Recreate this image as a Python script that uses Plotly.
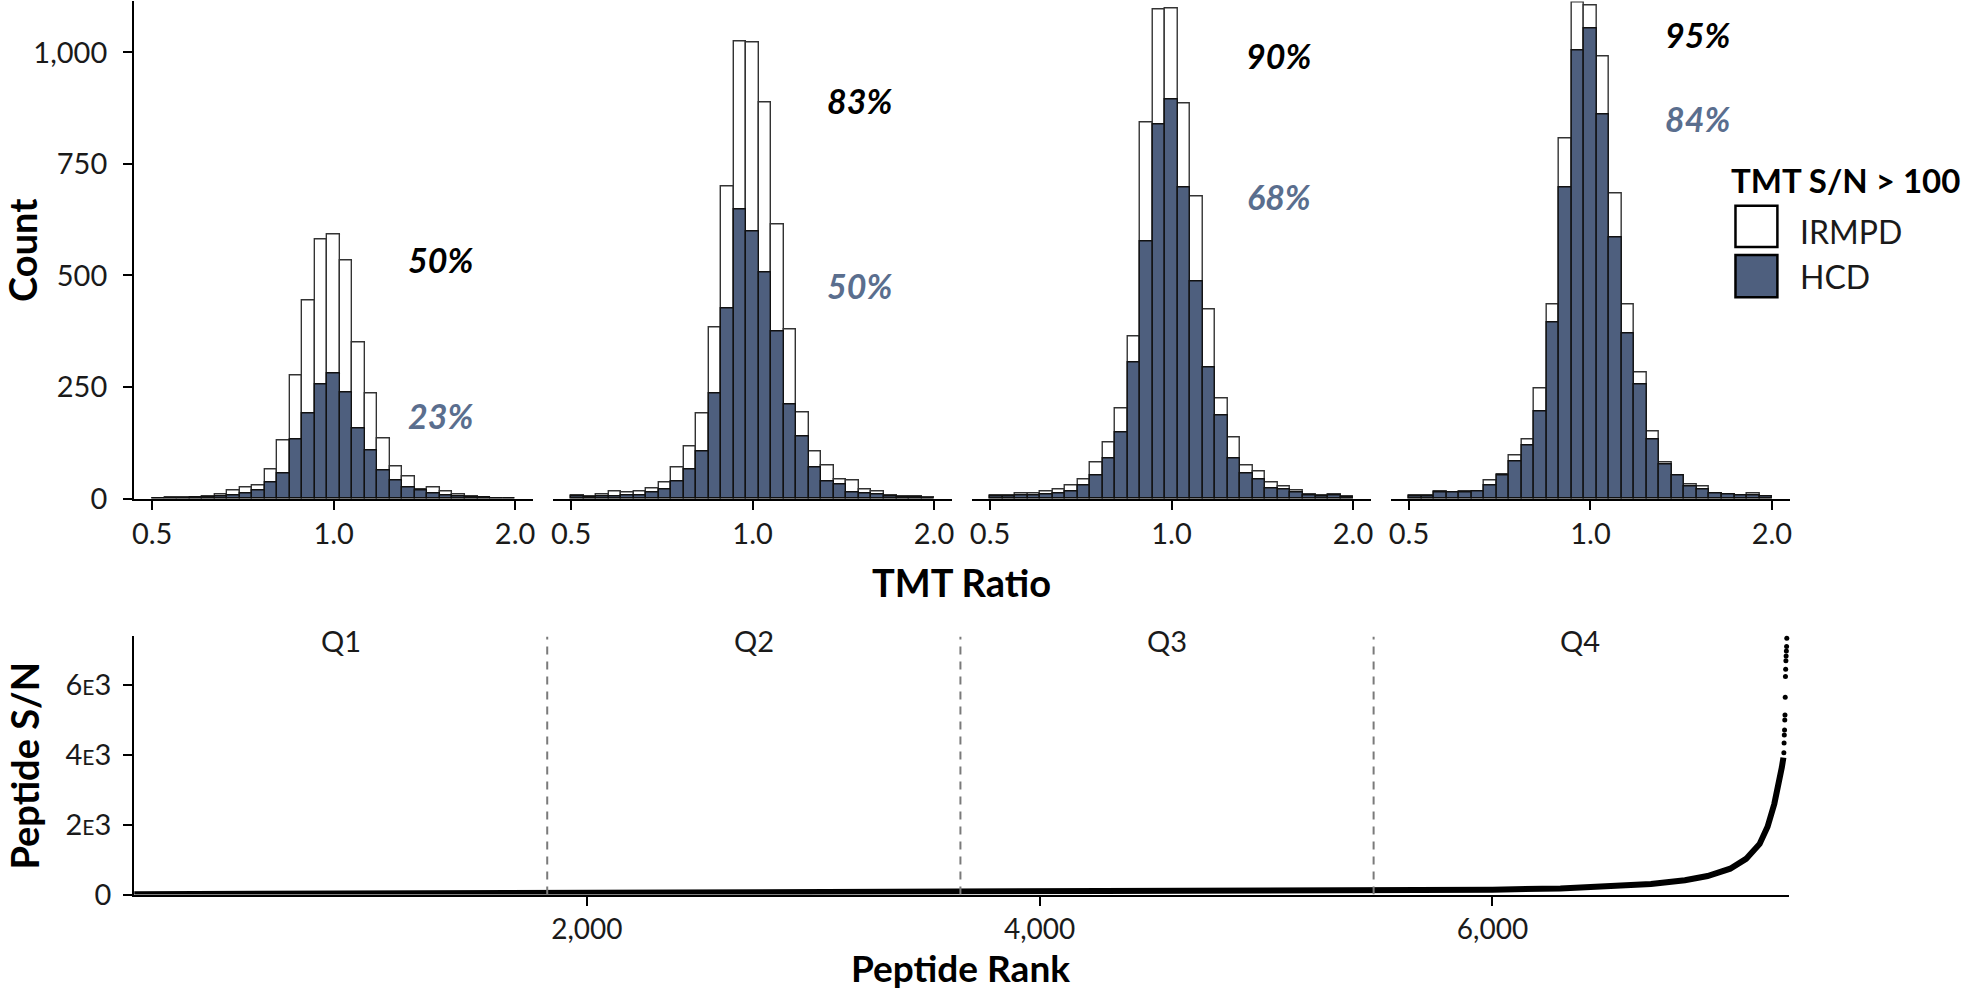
import math
import plotly.graph_objects as go

# ---------------- data ----------------
QUARTILES = ["Q1", "Q2", "Q3", "Q4"]
RATIO_TICKS = [0.5, 1.0, 2.0]
RATIO_TICK_LABELS = ["0.5", "1.0", "2.0"]
RATIO_MIN, RATIO_MAX = 0.5, 2.0
N_BINS = 29  # bins evenly spaced in log2(ratio) between 0.5 and 2.0

IRMPD_Q1 = [1, 2, 2, 3, 5, 9, 19, 26, 30, 66, 131, 275, 443, 581, 592, 533, 350, 236, 135, 72, 49, 20, 26, 15, 9, 5, 2, 1, 0]
HCD_Q1 = [1, 1, 1, 2, 3, 5, 8, 11, 19, 36, 56, 132, 190, 255, 280, 238, 157, 107, 63, 40, 24, 19, 12, 8, 5, 3, 2, 1, 0]
IRMPD_Q2 = [8, 5, 9, 17, 13, 15, 23, 36, 69, 118, 190, 383, 700, 1024, 1022, 888, 614, 380, 192, 106, 75, 43, 40, 20, 17, 8, 5, 4, 3]
HCD_Q2 = [4, 3, 4, 5, 6, 8, 13, 20, 39, 66, 106, 235, 427, 647, 599, 507, 375, 210, 139, 70, 39, 32, 13, 11, 9, 5, 3, 2, 1]
IRMPD_Q3 = [8, 7, 11, 12, 16, 20, 30, 43, 81, 126, 201, 364, 844, 1095, 1098, 885, 677, 424, 224, 136, 74, 61, 36, 27, 19, 9, 8, 9, 4]
HCD_Q3 = [5, 5, 7, 8, 9, 12, 17, 30, 53, 90, 149, 304, 576, 838, 894, 698, 487, 294, 186, 90, 57, 43, 23, 20, 13, 7, 5, 6, 3]
IRMPD_Q4 = [8, 8, 15, 14, 15, 17, 40, 55, 97, 133, 247, 434, 808, 1112, 1105, 991, 683, 435, 282, 150, 81, 52, 32, 27, 12, 9, 8, 11, 5]
HCD_Q4 = [5, 5, 13, 13, 13, 17, 30, 51, 84, 119, 195, 394, 698, 1005, 1053, 861, 586, 371, 255, 132, 76, 51, 27, 21, 11, 9, 7, 8, 4]

PCT_IRMPD = ["50%", "83%", "90%", "95%"]
PCT_HCD = ["23%", "50%", "68%", "84%"]

N_PEPTIDES = 7300
PEPTIDE_RANK = [1, 500, 1000, 1500, 1825, 2500, 3000, 3650, 4200, 4800, 5475, 6000, 6300,
                6500, 6700, 6850, 6950, 7050, 7120, 7180, 7215, 7245, 7265, 7278, 7285]
PEPTIDE_SN = [8, 18, 25, 31, 35, 44, 52, 62, 74, 88, 108, 140, 175,
              225, 300, 410, 530, 740, 1020, 1450, 1940, 2600, 3150, 3640, 3920]
TAIL_RANK = [7287, 7288, 7289, 7290, 7291, 7292, 7293, 7294, 7295, 7296, 7297, 7298, 7299, 7300]
TAIL_SN = [4060, 4340, 4570, 4710, 5000, 5140, 5650, 6240, 6450, 6690, 6830, 6970, 7100, 7340]

# ---------------- style ----------------
W, H = 1972, 1006
FONT = "Lato"
HCD_COLOR = "#4E5F7E"
HCD_TEXT = "#5A6E8E"
TICK_FONT = dict(family=FONT, size=29, color="#1a1a1a")


def px(x):
    return x / W


def py(y):
    return 1 - y / H


lo, hi = math.log2(RATIO_MIN), math.log2(RATIO_MAX)
bw = (hi - lo) / N_BINS
centers = [lo + (i + 0.5) * bw for i in range(N_BINS)]

IRMPD = [IRMPD_Q1, IRMPD_Q2, IRMPD_Q3, IRMPD_Q4]
HCD = [HCD_Q1, HCD_Q2, HCD_Q3, HCD_Q4]

fig = go.Figure()
for i in range(4):
    xa = "x" if i == 0 else f"x{i+1}"
    fig.add_bar(x=centers, y=IRMPD[i], width=bw, xaxis=xa, yaxis="y",
                marker=dict(color="white", line=dict(color="#333333", width=1.4)),
                name="IRMPD", showlegend=False)
    fig.add_bar(x=centers, y=HCD[i], width=bw, xaxis=xa, yaxis="y",
                marker=dict(color=HCD_COLOR, line=dict(color="#111111", width=1.4)),
                name="HCD", showlegend=False)

fig.add_scatter(x=PEPTIDE_RANK, y=PEPTIDE_SN, mode="lines", xaxis="x5", yaxis="y2",
                line=dict(color="black", width=6), cliponaxis=False, showlegend=False)
fig.add_scatter(x=TAIL_RANK, y=TAIL_SN, mode="markers", xaxis="x5", yaxis="y2",
                marker=dict(color="black", size=5), cliponaxis=False, showlegend=False)

axis_common = dict(showgrid=False, zeroline=False, showline=True, linecolor="black",
                   linewidth=2, ticks="outside", ticklen=9, tickwidth=2, tickcolor="black",
                   tickfont=TICK_FONT)

layout = dict(
    autosize=True, margin=dict(l=0, r=0, t=0, b=0),
    paper_bgcolor="white", plot_bgcolor="white", barmode="overlay", bargap=0,
    font=dict(family=FONT, color="black"),
)
for i in range(4):
    key = "xaxis" if i == 0 else f"xaxis{i+1}"
    left = 132.3 + i * 419.8
    layout[key] = dict(domain=[px(left), px(left + 400)], range=[-1.1, 1.1], anchor="y",
                       tickvals=[math.log2(t) for t in RATIO_TICKS], ticktext=RATIO_TICK_LABELS,
                       **axis_common)
layout["yaxis"] = dict(domain=[py(506.7), py(1.5)], range=[0, 1114], anchor="x",
                       tickvals=[0, 250, 500, 750, 1000], tickformat=",",
                       ticklabelstandoff=10, **axis_common)
layout["xaxis5"] = dict(domain=[px(132.3), px(1790.7)], range=[0, 7310], anchor="y2",
                        tickvals=[2000, 4000, 6000], tickformat=",",
                        **{**axis_common, "tickfont": dict(family=FONT, size=28, color="#1a1a1a")})
small_e = '<span style="font-size:21px">E</span>'
layout["yaxis2"] = dict(domain=[py(909), py(646.7)], range=[0, 7390], anchor="x5",
                        tickvals=[0, 2000, 4000, 6000],
                        ticktext=["0", f"2{small_e}3", f"4{small_e}3", f"6{small_e}3"],
                        ticklabelstandoff=6, **axis_common)
fig.update_layout(**layout)

ann = []
for i in range(4):
    xr = "x" if i == 0 else f"x{i+1}"
    ann.append(dict(x=0.59, y=[535, 893, 993, 1039][i], xref=xr, yref="y", text=f"<b><i>{PCT_IRMPD[i]}</i></b>",
                    showarrow=False, xanchor="center", yanchor="middle",
                    font=dict(family=FONT, size=34, color="black")))
    ann.append(dict(x=0.59, y=[187, 477, 677, 851][i], xref=xr, yref="y", text=f"<b><i>{PCT_HCD[i]}</i></b>",
                    showarrow=False, xanchor="center", yanchor="middle",
                    font=dict(family=FONT, size=34, color=HCD_TEXT)))

q = N_PEPTIDES / 4
for k, name in enumerate(QUARTILES):
    ann.append(dict(x=q * (k + 0.5), y=7280, xref="x5", yref="y2", text=name, showarrow=False,
                    xanchor="center", yanchor="middle", font=dict(family=FONT, size=29, color="#1a1a1a")))


def paper_text(x, y, text, size, anchor="center", angle=0, color="black"):
    return dict(x=px(x), y=py(y), xref="paper", yref="paper", text=text, showarrow=False,
                xanchor=anchor, yanchor="middle", textangle=angle,
                font=dict(family=FONT, size=size, color=color))


ann += [
    paper_text(961, 591, "<b>TMT Ratio</b>", 38),
    paper_text(960, 983, "<b>Peptide Rank</b>", 37),
    paper_text(20, 254, "<b>Count</b>", 38, angle=-90),
    paper_text(22, 778, "<b>Peptide S/N</b>", 38, angle=-90),
    paper_text(1731, 183, "<b>TMT S/N &gt; 100</b>", 33, anchor="left"),
    paper_text(1800, 235, "IRMPD", 32, anchor="left", color="#1a1a1a"),
    paper_text(1800, 281, "HCD", 32, anchor="left", color="#1a1a1a"),
]

shapes = []
for k in range(1, 4):
    shapes.append(dict(type="line", xref="x5", yref="y2", x0=q * k, x1=q * k, y0=0, y1=7390,
                       line=dict(color="#7a7a7a", width=2, dash="8px,7px")))
shapes.append(dict(type="rect", xref="paper", yref="paper", x0=px(1737), x1=px(1779), y0=py(251), y1=py(209),
                   fillcolor="white", line=dict(color="black", width=2.5)))
shapes.append(dict(type="rect", xref="paper", yref="paper", x0=px(1737), x1=px(1779), y0=py(302), y1=py(259),
                   fillcolor=HCD_COLOR, line=dict(color="black", width=2.5)))

fig.update_layout(annotations=ann, shapes=shapes)

fig.write_html("out.html", config={"displayModeBar": False},
               default_width="100vw", default_height="100vh",
               post_script="document.body.style.margin='0';document.body.style.overflow='hidden';")
